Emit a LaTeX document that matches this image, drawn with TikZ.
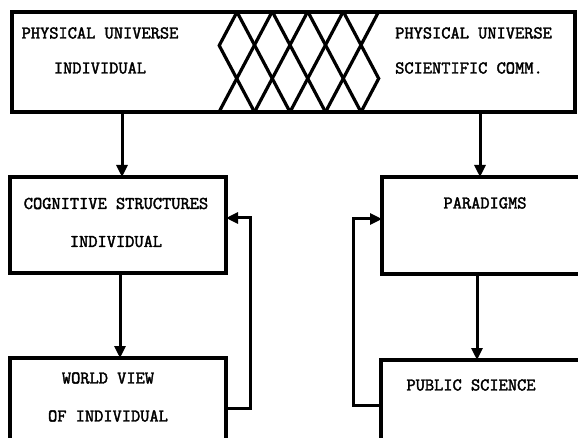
\documentclass[tikz,border=0pt]{standalone}
\usepackage{fontspec}
\newfontfamily\typefont{Latin Modern Mono}[FakeBold=2.2]
\usetikzlibrary{arrows.meta, positioning, calc}

\begin{document}
\begin{tikzpicture}[
        x=1pt, y=-1pt,
        box/.style={rectangle, draw, line width=3.2pt, anchor=north west, inner sep=0pt, outer sep=0pt},
        txt/.style={align=center, inner sep=0pt, font=\typefont\fontsize{17.9}{38}\selectfont},
        hatch/.style={line width=3.2pt},
        line/.style={-{Triangle[length=12pt, width=11pt]}, line width=3pt}
    ]
    \useasboundingbox (0,0) rectangle (578,438);
    \clip (0,0) rectangle (578,438);
    % boxes
    \node [box, minimum width=563pt, minimum height=100pt] (phys) at (12,12) {};
    \node [box, minimum width=216pt, minimum height=96pt] (cog) at (10,177) {};
    \node [box, minimum width=216pt, minimum height=120pt] (world) at (10,358) {};
    \node [box, minimum width=220pt, minimum height=97pt] (para) at (382,177) {};
    \node [box, minimum width=220pt, minimum height=120pt] (pub) at (381,360) {};
    % texts
    \node [txt] (physind) at (100,50.5) {PHYSICAL UNIVERSE\\[-3pt]INDIVIDUAL};
    \node [txt, align=left, anchor=west] (physsci) at (395,50.5) {PHYSICAL UNIVERSE\\[-3pt]SCIENTIFIC COMM.};
    \node [txt] (cogtxt) at (116,222.5) {COGNITIVE STRUCTURES\\INDIVIDUAL};
    \node [txt] (worldtxt) at (108,397) {WORLD VIEW\\OF INDIVIDUAL};
    \node [txt] (paratxt) at (485,203) {PARADIGMS};
    \node [txt] (pubtxt) at (471,385) {PUBLIC SCIENCE};
    % overlap of the two universes
    \foreach \t in {237,272.5,308}
      \draw [hatch] (\t,12) -- ++(53,100);
    \foreach \b in {219,254.5,290,325.5}
      \draw [hatch] (\b,112) -- ++(53,-100);
    \draw [hatch] (237,12) -- (219.2,45.5) -- (254.5,112);
    \draw [hatch] (343.5,12) -- (378.7,78.5) -- (361,112);
    % arrows
    \draw [line] ([xshift=4pt]cog.north |- phys.south) -- ([xshift=4pt]cog.north);
    \draw [line] ([xshift=-12pt]para.north |- phys.south) -- ([xshift=-12pt]para.north);
    \draw [line] ([xshift=2pt]world.north |- cog.south) -- ([xshift=2pt]world.north);
    \draw [line] ([xshift=-14pt]pub.north |- para.south) -- ([xshift=-14pt]pub.north);
    \draw [line] ([yshift=-50pt]world.north east) -- ++(24,0) |- ([yshift=-41pt]cog.north east);
    \draw [line] ([yshift=-45pt]pub.north west) -- ++(-28,0) |- ([yshift=-42pt]para.north west);
\end{tikzpicture}
\end{document}
